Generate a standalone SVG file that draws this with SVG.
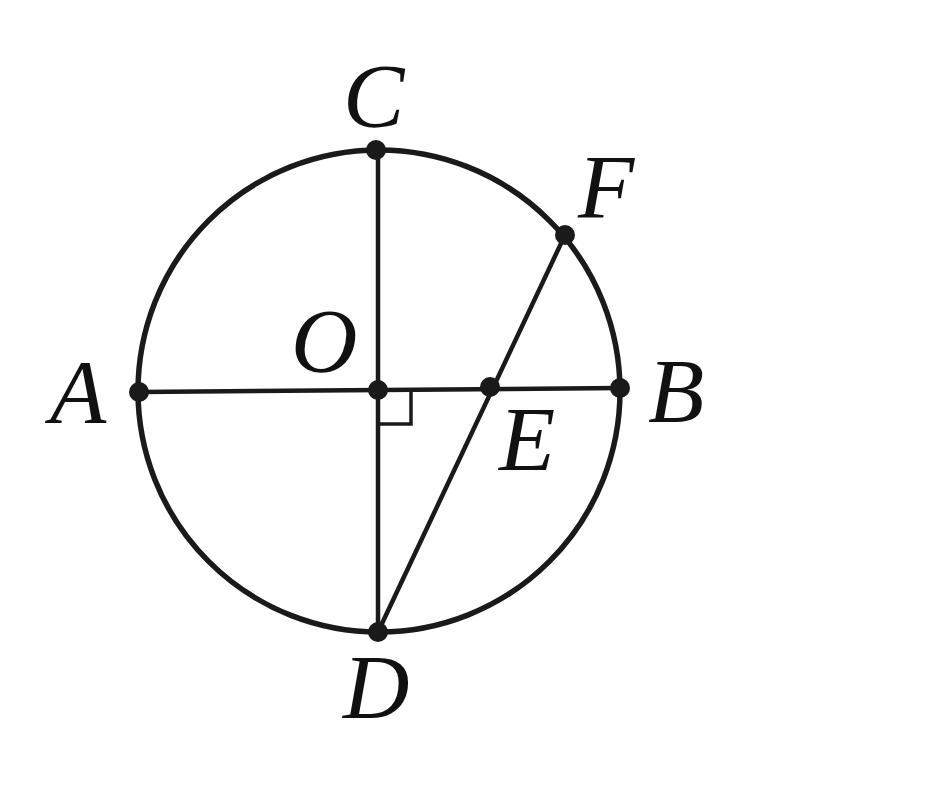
<svg xmlns="http://www.w3.org/2000/svg" width="928" height="800" viewBox="0 0 928 800">
<style>
.ln{stroke:#1a1a1a;stroke-width:4.5;fill:none;stroke-linecap:round}
.sq{stroke:#1a1a1a;stroke-width:3.5;fill:none}
.cir{stroke:#1a1a1a;stroke-width:5.5;fill:none}
.pt{fill:#1a1a1a}
.lb{font-family:"Liberation Serif",serif;font-style:italic;font-size:92px;fill:#111}
</style>
<rect width="928" height="800" fill="#fff"/>
<g id="connectors">
<circle class="cir" cx="379" cy="391" r="241"/>
<line class="ln" x1="139" y1="392" x2="620" y2="388"/>
<line class="ln" x1="378" y1="150" x2="378" y2="632"/>
<line class="ln" x1="378" y1="632" x2="565" y2="235"/>
<polyline class="sq" points="380,424 411,424 411,392"/>
</g>
<g id="A"><circle class="pt" cx="139" cy="392" r="10"/><text class="lb" x="50" y="423">A</text></g>
<g id="B"><circle class="pt" cx="620" cy="388" r="10"/><text class="lb" x="648" y="422">B</text></g>
<g id="C"><circle class="pt" cx="376" cy="150" r="10"/><text class="lb" x="343" y="127">C</text></g>
<g id="D"><circle class="pt" cx="378" cy="632" r="10"/><text class="lb" x="343" y="718">D</text></g>
<g id="E"><circle class="pt" cx="490" cy="387" r="10"/><text class="lb" x="499" y="470">E</text></g>
<g id="F"><circle class="pt" cx="565" cy="235" r="10"/><text class="lb" x="578" y="218">F</text></g>
<g id="O"><circle class="pt" cx="378" cy="390" r="10"/><text class="lb" x="291" y="372">O</text></g>
</svg>
